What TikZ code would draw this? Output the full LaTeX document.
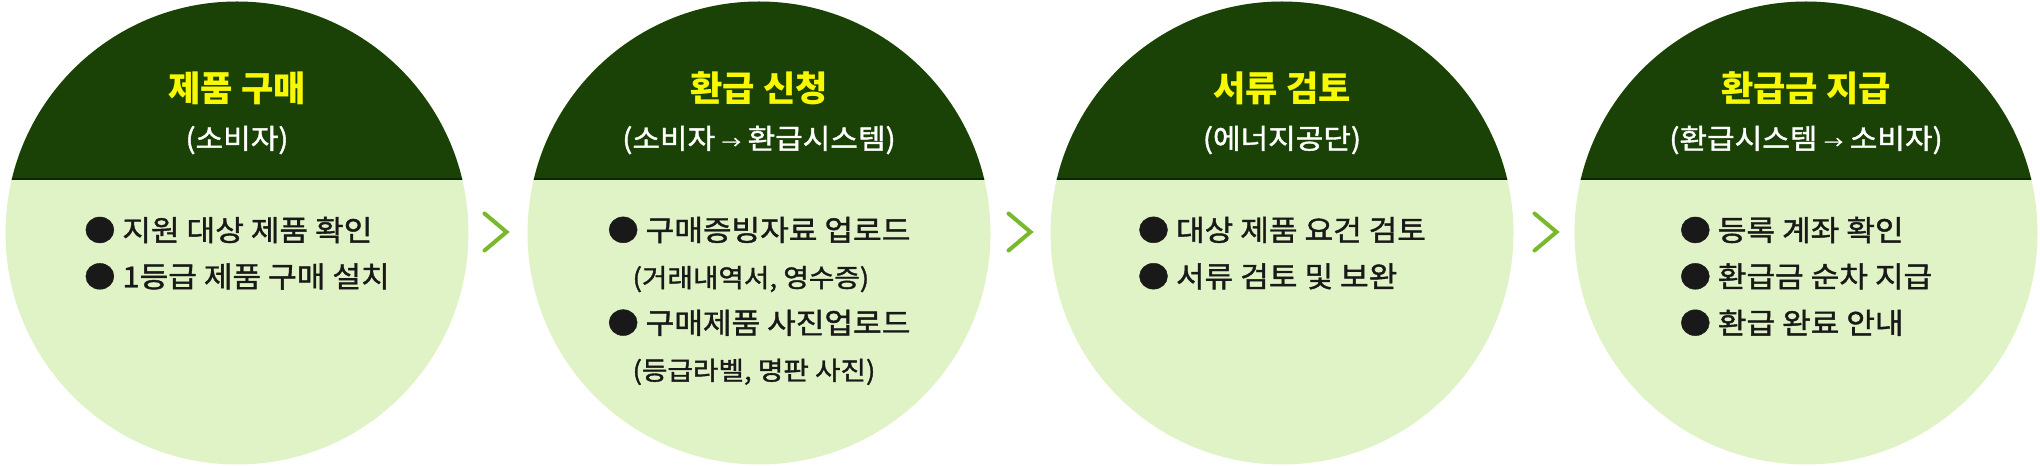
\documentclass[tikz,border=0pt]{standalone}
\usepackage{fontspec}
\setmainfont{Noto Sans CJK KR}
\newfontfamily\bodyfont{Noto Sans CJK KR}[FakeBold=1.4, FakeStretch=1.08]
\usepackage{xcolor}
\usetikzlibrary{calc}
\definecolor{capgreen}{HTML}{1A4206}
\definecolor{chordgreen}{HTML}{0C2602}
\definecolor{leafgreen}{HTML}{E0F3C6}
\definecolor{arrowgreen}{HTML}{7AB82E}
\definecolor{titleyellow}{HTML}{F8F800}

\begin{document}
\begin{tikzpicture}[
    % Styles
    stepcircle/.style={% For the four round steps
        circle,
        fill=leafgreen,
        minimum size=9.26cm,
        inner sep=0pt,
        path picture={
            \fill[capgreen] (path picture bounding box.north west)
                rectangle ([yshift=1.08cm]path picture bounding box.east);
            \draw[chordgreen, line width=1.2pt]
                ([yshift=1.08cm]path picture bounding box.west)
                -- ([yshift=1.08cm]path picture bounding box.east);
            },
        },
    steptitle/.style={% Yellow heading in the dark cap
        text=titleyellow,
        font=\bfseries\fontsize{20}{22}\selectfont,
        inner sep=0pt,
        },
    stepwho/.style={% Who does the step
        text=white,
        font=\bodyfont\fontsize{15.8}{17}\selectfont,
        inner sep=0pt,
        },
    steplist/.style={% Bullet list in the light part
        text=black!90,
        font=\bodyfont\fontsize{16.4}{26.4}\selectfont,
        align=left,
        anchor=north,
        inner sep=0pt,
        },
    chevron/.style={% Arrows between the steps
        draw=arrowgreen,
        line width=2.3pt,
        line cap=round,
        },
    ]

    \useasboundingbox (0,0) rectangle (40.8,9.32);

    % Draw the steps
    \node [stepcircle] (step1) at (4.74, 4.66) {};
    \node [stepcircle] (step2) at (15.18, 4.66) {};
    \node [stepcircle] (step3) at (25.64, 4.66) {};
    \node [stepcircle] (step4) at (36.12, 4.66) {};

    % Headings
    \node [steptitle] (title1) at (4.74, 7.56) {제품 구매};
    \node [steptitle] (title2) at (15.18, 7.56) {환급 신청};
    \node [steptitle] (title3) at (25.64, 7.56) {서류 검토};
    \node [steptitle] (title4) at (36.12, 7.56) {환급금 지급};

    \node [stepwho] (who1) at (4.74, 6.52) {(소비자)};
    \node [stepwho] (who2) at (15.18, 6.52) {(소비자 {\fontsize{10}{10}\selectfont →} 환급시스템)};
    \node [stepwho] (who3) at (25.64, 6.52) {(에너지공단)};
    \node [stepwho] (who4) at (36.12, 6.52) {(환급시스템 {\fontsize{10}{10}\selectfont →} 소비자)};

    % Lists
    \node [steplist] (list1) at (4.74, 4.99) {● 지원 대상 제품 확인\\● 1등급 제품 구매 설치};
    \node [steplist] (list2) at (15.18, 4.99) {● 구매증빙자료 업로드\\
        {\fontsize{14.6}{26.4}\selectfont\hspace*{0.5cm}(거래내역서, 영수증)}\\
        ● 구매제품 사진업로드\\
        {\fontsize{14.6}{26.4}\selectfont\hspace*{0.5cm}(등급라벨, 명판 사진)}};
    \node [steplist] (list3) at (25.64, 4.99) {● 대상 제품 요건 검토\\● 서류 검토 및 보완};
    \node [steplist] (list4) at (36.12, 4.99) {● 등록 계좌 확인\\● 환급금 순차 지급\\● 환급 완료 안내};

    % Arrows
    \coordinate (gap1) at ($(step1.east)!0.5!(step2.west)+(-0.05,0.02)$);
    \coordinate (gap2) at ($(step2.east)!0.5!(step3.west)+(-0.02,0.02)$);
    \coordinate (gap3) at ($(step3.east)!0.5!(step4.west)+(0.03,0.02)$);
    \draw [chevron] ([xshift=-0.22cm, yshift=0.37cm]gap1) -- ([xshift=0.22cm]gap1) -- ([xshift=-0.22cm, yshift=-0.37cm]gap1);
    \draw [chevron] ([xshift=-0.22cm, yshift=0.37cm]gap2) -- ([xshift=0.22cm]gap2) -- ([xshift=-0.22cm, yshift=-0.37cm]gap2);
    \draw [chevron] ([xshift=-0.22cm, yshift=0.37cm]gap3) -- ([xshift=0.22cm]gap3) -- ([xshift=-0.22cm, yshift=-0.37cm]gap3);

\end{tikzpicture}
\end{document}
